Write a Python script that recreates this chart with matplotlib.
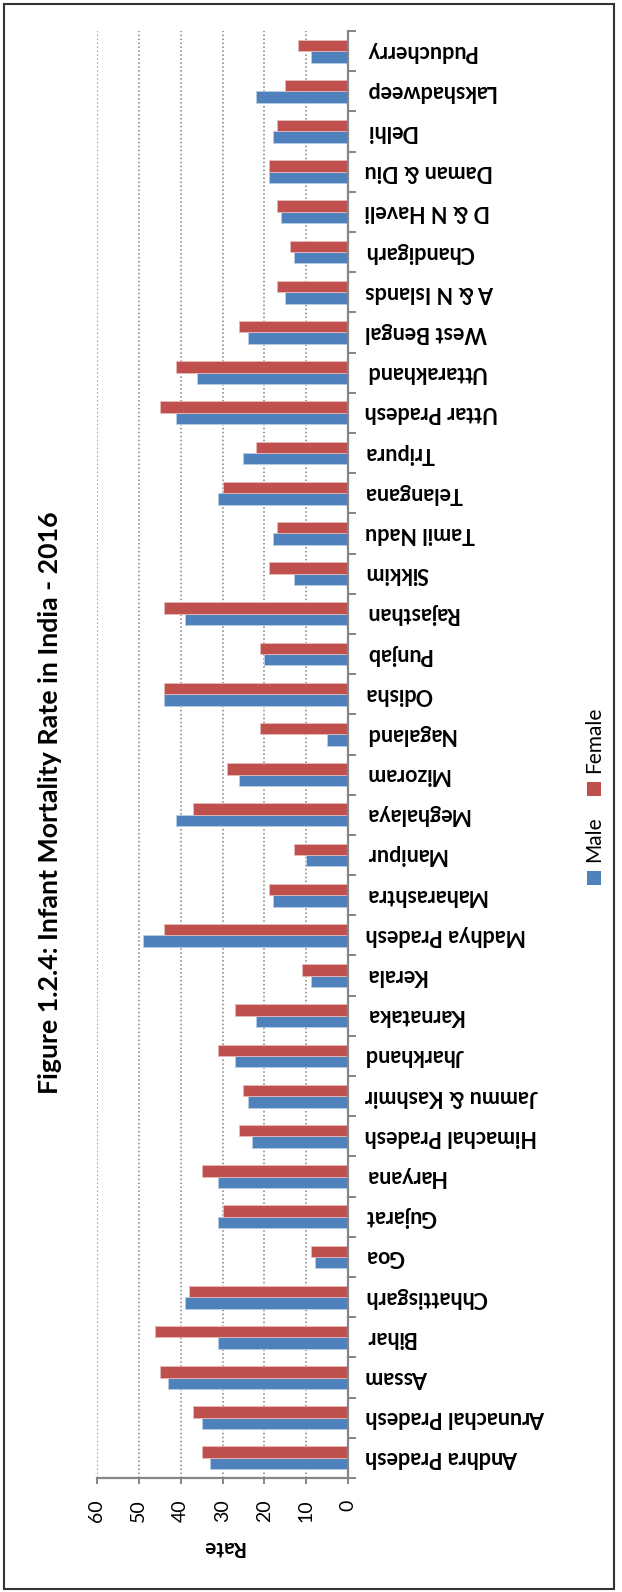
import matplotlib

matplotlib.use("Agg")

import matplotlib.pyplot as plt
import numpy as np
from matplotlib.patches import Rectangle

plt.rcParams["font.family"] = ["Lato", "DejaVu Sans"]

states = [
    "Andhra Pradesh", "Arunachal Pradesh", "Assam", "Bihar", "Chhattisgarh",
    "Goa", "Gujarat", "Haryana", "Himachal Pradesh", "Jammu & Kashmir",
    "Jharkhand", "Karnataka", "Kerala", "Madhya Pradesh", "Maharashtra",
    "Manipur", "Meghalaya", "Mizoram", "Nagaland", "Odisha", "Punjab",
    "Rajasthan", "Sikkim", "Tamil Nadu", "Telangana", "Tripura",
    "Uttar Pradesh", "Uttarakhand", "West Bengal", "A & N Islands",
    "Chandigarh", "D & N Haveli", "Daman & Diu", "Delhi", "Lakshadweep",
    "Puducherry",
]
male = [33, 35, 43, 31, 39, 8, 31, 31, 23, 24, 27, 22, 9, 49, 18, 10, 41, 26,
        5, 44, 20, 39, 13, 18, 31, 25, 41, 36, 24, 15, 13, 16, 19, 18, 22, 9]
female = [35, 37, 45, 46, 38, 9, 30, 35, 26, 25, 31, 27, 11, 44, 19, 13, 37, 29,
          21, 44, 21, 44, 19, 17, 30, 22, 45, 41, 26, 17, 14, 17, 19, 17, 15, 12]
rate_ticks = [0, 10, 20, 30, 40, 50, 60]

W, H = 622, 1592
BLUE = "#4F81BD"
RED = "#C0504D"
AXIS = "#868686"


def fx(x):
    return x / W


def fy(y):
    return 1 - y / H


fig = plt.figure(figsize=(W / 100, H / 100), dpi=100)
fig.patches.append(Rectangle((fx(4), fy(1589)), fx(610), 1585 / H, transform=fig.transFigure,
                             fill=False, edgecolor="#333333", linewidth=1.5))

left, right, top, bottom = 96.7, 348.3, 31, 1478
ax = fig.add_axes([fx(left), fy(bottom), fx(right - left), (bottom - top) / H])

pos = np.arange(len(states))
h = 0.284
ax.barh(pos - h / 2, male, height=h, color=BLUE, edgecolor="#b9cde5", linewidth=0.6)
ax.barh(pos + h / 2, female, height=h, color=RED, edgecolor="#e6b9b8", linewidth=0.6)

ax.set_xlim(60, 0)
ax.set_ylim(-0.5, len(states) - 0.5)

for s in ["left", "top"]:
    ax.spines[s].set_visible(False)
for s in ["bottom", "right"]:
    ax.spines[s].set_color(AXIS)
    ax.spines[s].set_linewidth(1.6)

ax.set_xticks(rate_ticks)
ax.set_xticklabels([str(t) for t in rate_ticks], rotation=90, fontsize=14)
ax.tick_params(axis="x", direction="out", length=4.5, width=1.4, color=AXIS, pad=11)
ax.xaxis.grid(True, color="#808080", linestyle=(0, (1, 1.6)), linewidth=1.1)
ax.set_axisbelow(True)

ax.yaxis.tick_right()
ax.set_yticks(pos)
ax.set_yticklabels(states, rotation=180, fontsize=15.5, fontweight="bold")
for lbl in ax.get_yticklabels():
    lbl.set_va("center")
    lbl.set_ha("left")
ax.set_yticks(np.arange(-0.5, len(states), 1.0), minor=True)
ax.tick_params(axis="y", which="major", length=0, pad=12)
ax.tick_params(axis="y", which="minor", direction="out", length=5.8, width=1.4, color=AXIS)

fig.text(fx(222.5), fy(1547), "Rate", rotation=180, fontsize=15, fontweight="bold",
         ha="center", va="center")

fig.text(fx(50), fy(803), "Figure 1.2.4: Infant Mortality Rate in India - 2016", rotation=90,
         fontsize=19.3, fontweight="bold", ha="center", va="center")

# legend, drawn sideways like the rest of the chart
for label, color, sq_y, txt_y in [("Male", BLUE, 878, 839), ("Female", RED, 789, 739.5)]:
    fig.patches.append(Rectangle((fx(587), fy(sq_y + 7)), 14 / W, 14 / H,
                                 transform=fig.transFigure, facecolor=color, edgecolor="none"))
    fig.text(fx(594), fy(txt_y), label, rotation=90, fontsize=15, ha="center", va="center")

fig.savefig("out.png", dpi=100)
plt.close(fig)
